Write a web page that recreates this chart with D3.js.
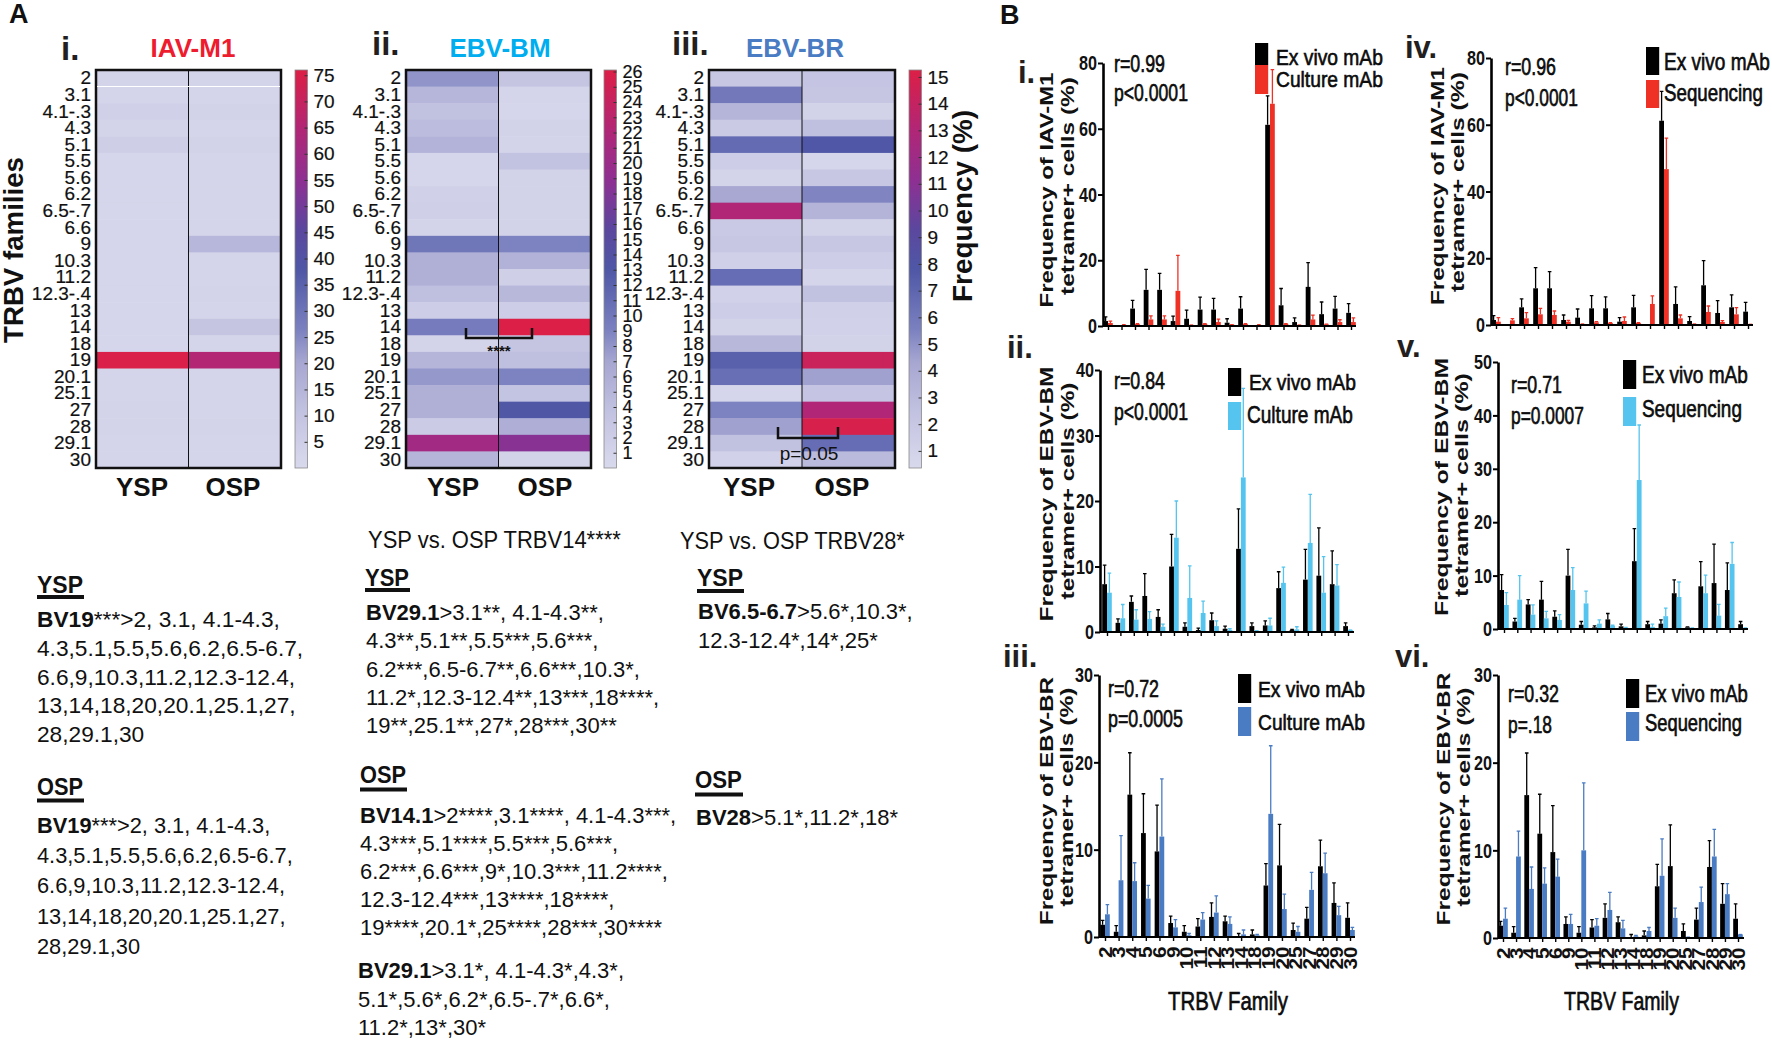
<!DOCTYPE html>
<html>
<head>
<meta charset="utf-8">
<script src="https://d3js.org/d3.v7.min.js"></script>
<style>
  body { margin: 0; background: #fff; }
  text { font-family: "Liberation Sans", Arial, sans-serif; fill: #111; }
  .thick text { stroke: #000; stroke-width: 0.6px; }
  .soft text { stroke: #111; stroke-width: 0.2px; }
</style>
</head>
<body>
<svg id="chart" width="1772" height="1046"></svg>
<script>
// ---- heatmap data (frequency %)
const trbvRows = ["2","3.1","4.1-.3","4.3","5.1","5.5","5.6","6.2","6.5-.7","6.6","9","10.3","11.2","12.3-.4","13","14","18","19","20.1","25.1","27","28","29.1","30"];
const heatM1Ysp = [3,2.5,4,3,5,2,2,2,2,2,2,2,2,2,2,2,2,75.5,2.5,2.5,3,3,2.5,2.5];
const heatM1Osp = [3,2.5,3.5,2.5,3.5,2.5,2.5,2.5,2.5,2.5,14.5,2.5,2.5,3,2.5,9.5,2.5,65,2.5,2.5,2.5,3,2.5,2.5];
const heatBmYsp = [8,5,3.8,4.3,5.4,0.6,0.6,1.5,1.6,1,10,5.8,5.8,4,2,9.6,1,5.2,7.8,5.7,5.7,2.2,20.8,5.2];
const heatBmOsp = [3.3,0.8,0.7,1.2,1,3.6,1.2,1.2,1.2,1.1,9,5.5,1.6,4.8,2,26,3.3,4,9,3.5,13,6,18.5,1.2];
const heatBrYsp = [2,6,3.3,1.7,6.7,1.5,0.9,4.2,13,1.8,2,1.2,6.6,1.1,1.5,1,3.1,7.3,6.5,0.7,5.5,4.5,2.5,1.1];
const heatBrOsp = [2.2,2.1,1,2.6,7.8,0.7,2,5.4,3.4,1,2,1.5,0.8,2.5,1.2,1.1,1,14.3,4.5,2.2,13,15,6.6,3];
const groups = ["YSP","OSP"];
const colorStops = [0,.13,.27,.35,.5,.6,.72,.85,1];
const colorRange = ["#d9d9ed","#c4c4e2","#a5a5d1","#7a80bf","#4f57a6","#5b479e","#8d3093","#b12676","#dc1f46"];

// ---- bar data (mean and top of the error bar, %)
const families = ["2","3","4","5","6","9","10","11","12","13","14","18","19","20","25","27","28","29","30"];
const exVivoM1 = [1.5,0,5.3,11,11,1.5,2.2,5,5,1,5.3,0,61.2,6.3,1.2,11.9,3.6,5.3,4];
const exVivoM1Err = [2.8,0,7.8,17.2,16,3,4.8,8.8,8.4,2.2,8.9,0,70,11.4,2.5,19.3,7.3,9,6.8];
const cultureM1 = [0.9,0.3,0.6,2,2,10.7,0.3,0.6,1.2,0.4,0.6,0.3,67.6,0.6,0.3,2,0.5,1.2,1.2];
const cultureM1Err = [1.5,0.4,0.7,3.1,3.1,21.5,0.3,0.7,2.1,0.4,0.7,0.4,78,0.7,0.3,3.3,0.6,1.9,2.5];
const seqM1 = [1,1.4,2,3.2,3,1,0.3,0.8,0.6,1.2,0.6,6.3,46.7,2,0.3,3.9,0.9,3.2,0.2];
const seqM1Err = [2.2,1.9,3.7,5,4.2,1.4,0.3,1,0.7,2.4,0.7,8.7,56,3,0.3,5.7,1.3,5.2,0.2];
const exVivoBm = [7.3,1.4,4.6,5.5,2.3,10,0.8,0.3,1.8,0.5,12.7,0.9,1,6.7,0.3,8,8.6,7.3,0.9];
const exVivoBmErr = [10.2,2,5.5,8.9,3.4,14.9,1.4,0.6,2.9,0.9,18.8,1.4,1.7,9.2,0.4,12.6,15.9,12.4,1.4];
const cultureBm = [6,2.1,1.9,2,0.8,14.4,5.2,2.9,0.9,0.3,23.6,0.2,1,7.5,0.4,13.6,6,7.1,0.3];
const cultureBmErr = [9,4.2,3.4,3.1,1.2,20,10.1,4.7,1.7,0.5,37.2,0.2,2.1,9.9,0.8,21,11.5,10.3,0.3];
const seqBm = [4.5,5.5,2.7,2,1.7,7.3,4.8,1,0.6,0.2,27.9,0.4,2.4,6,0.1,6.7,2.5,12.2,0.2];
const seqBmErr = [6.8,10,4.5,3.3,2.7,11.5,7.1,1.7,0.7,0.3,38.2,0.9,3.9,8.8,0.2,10.1,4.6,16.2,0.2];
const exVivoBr = [1.4,0.6,16.3,11.9,9.8,1.6,0.6,1.2,2.3,1.8,0.1,0.3,5.9,8.2,0.8,2.1,8.1,3.9,2.2];
const exVivoBrErr = [1.9,1.3,21.1,16.4,15.1,2.4,1.3,2.1,3.9,2.4,0.4,0.8,8.4,12.9,1.6,3.4,11.1,6.2,3.9];
const cultureBr = [2.6,6.5,6.4,4.4,11.5,1.1,0.2,2,2.8,1.5,0.3,0.2,14.1,3.2,0.6,5.4,7.3,2.5,0.8];
const cultureBrErr = [3.7,11.6,8.5,5.9,18.1,2,0.4,2.8,4.7,2.3,0.8,0.3,21.9,4.9,1.2,7.4,9.6,3.5,1.1];
const seqBr = [2.2,9.3,5.6,6.2,7,1.6,10,1.4,3.2,1.1,0.2,0.8,7.1,2.3,0.1,4.1,9.3,5,0.4];
const seqBrErr = [3.4,12.2,8.1,8,9,2.7,17.7,2.2,5.2,2,0.3,1.2,11.3,3.4,0.1,5.8,12.4,6.2,0.4];

const red = "#ee3124", sky = "#55c5ef", blue = "#4a7cc4";

const svg = d3.select("#chart");

// small helper, w squeezes the text to a measured width like the figure
function label(parent, x, y, str, o = {}) {
  const t = parent.append("text")
    .attr("x", x).attr("y", y)
    .attr("font-size", o.size || 22)
    .attr("font-weight", o.bold ? "bold" : "normal")
    .attr("text-anchor", o.anchor || "start")
    .text(str);
  if (o.color) t.style("fill", o.color);
  if (o.w) {
    const k = o.w / t.node().getComputedTextLength();
    t.attr("transform", "translate(" + x + "," + y + ") scale(" + k + ",1) translate(" + (-x) + "," + (-y) + ")");
  }
  return t;
}

function vertical(x, y, str, o) {
  const g = svg.append("g").attr("transform", "translate(" + x + "," + y + ") rotate(-90)");
  label(g, 0, 0, str, Object.assign({ anchor: "middle" }, o)).attr("dy", "0.35em");
}

// ---- panel A heatmaps
function heatmap(cfg) {
  const rowScale = d3.scaleBand().domain(trbvRows).range([70, 468]);
  const colScale = d3.scaleBand().domain(groups).range([cfg.x0, cfg.x1]);
  const [lo, hi] = cfg.domain;
  const color = d3.scaleLinear()
    .domain(colorStops.map(t => lo + t * (hi - lo)))
    .range(colorRange);

  const g = svg.append("g");
  [cfg.ysp, cfg.osp].forEach((vals, c) => {
    g.selectAll(null).data(vals).join("rect")
      .attr("x", colScale(groups[c]))
      .attr("y", (d, i) => rowScale(trbvRows[i]))
      .attr("width", colScale.bandwidth())
      .attr("height", rowScale.bandwidth() + 0.5)
      .attr("fill", d => color(d));
  });
  g.append("line")
    .attr("x1", colScale("OSP")).attr("x2", colScale("OSP"))
    .attr("y1", 70).attr("y2", 468)
    .attr("stroke", "#111").attr("stroke-width", 1);
  g.append("rect")
    .attr("x", cfg.x0).attr("y", 70)
    .attr("width", cfg.x1 - cfg.x0).attr("height", 398)
    .attr("fill", "none").attr("stroke", "#111").attr("stroke-width", 2.5);

  // row labels
  const rowAxis = g.append("g")
    .attr("class", "soft")
    .attr("transform", "translate(" + (cfg.x0 - 5) + ",0)")
    .call(d3.axisLeft(rowScale).tickSize(0).tickPadding(0));
  rowAxis.select(".domain").remove();
  rowAxis.selectAll("text").attr("font-size", 19).style("font-family", "Liberation Sans");

  groups.forEach((name, c) => {
    label(svg, cfg.groupX[c], 496, name, { size: 26, bold: true, anchor: "middle" });
  });

  // colour bar
  const id = "grad" + cfg.id;
  const grad = svg.append("defs").append("linearGradient")
    .attr("id", id).attr("x1", 0).attr("x2", 0).attr("y1", 1).attr("y2", 0);
  colorStops.forEach((t, i) => {
    grad.append("stop").attr("offset", t).attr("stop-color", colorRange[i]);
  });
  svg.append("rect")
    .attr("x", cfg.bar).attr("y", 70).attr("width", 12.5).attr("height", 398)
    .attr("fill", "url(#" + id + ")").attr("stroke", "#8a8a8a").attr("stroke-width", 0.8);
  const barScale = d3.scaleLinear().domain(cfg.domain).range([468, 70]);
  const barAxis = svg.append("g")
    .attr("class", "soft")
    .attr("transform", "translate(" + (cfg.bar + 12.5) + ",0)")
    .call(d3.axisRight(barScale).tickValues(cfg.ticks).tickFormat(d3.format("d")).tickSize(-3).tickPadding(6));
  barAxis.select(".domain").remove();
  barAxis.selectAll("line").attr("stroke", "#333");
  barAxis.selectAll("text").attr("font-size", cfg.tickFont).style("font-family", "Liberation Sans");

  label(svg, cfg.titleX, 57, cfg.title, { size: 26, bold: true, anchor: "middle", color: cfg.titleColor });
}

heatmap({ id: 1, x0: 96, x1: 281, ysp: heatM1Ysp, osp: heatM1Osp, domain: [0, 76], ticks: d3.range(5, 76, 5),
  bar: 295, tickFont: 19, groupX: [142, 233], title: "IAV-M1", titleX: 193, titleColor: "#ed1c2e" });
heatmap({ id: 2, x0: 406, x1: 591, ysp: heatBmYsp, osp: heatBmOsp, domain: [0, 26.1], ticks: d3.range(1, 27),
  bar: 604, tickFont: 18, groupX: [453, 545], title: "EBV-BM", titleX: 500, titleColor: "#00aeef" });
heatmap({ id: 3, x0: 709, x1: 895, ysp: heatBrYsp, osp: heatBrOsp, domain: [0.36, 15.26], ticks: d3.range(1, 16),
  bar: 909, tickFont: 19, groupX: [749, 842], title: "EBV-BR", titleX: 795, titleColor: "#4a7cc4" });

// white gap seen under the first row of the first heatmap
svg.append("line").attr("x1", 97).attr("x2", 280).attr("y1", 86.5).attr("y2", 86.5)
  .attr("stroke", "#fff").attr("stroke-width", 1);

// significance brackets
function bracket(x1, x2, y1, y2) {
  svg.append("path")
    .attr("d", d3.line()([[x1, y1], [x1, y2], [x2, y2], [x2, y1]]))
    .attr("fill", "none").attr("stroke", "#111").attr("stroke-width", 2.5);
}
bracket(466, 532, 328, 338);
label(svg, 499, 356, "****", { size: 15, bold: true, anchor: "middle" });
bracket(778, 838, 427, 438);
label(svg, 809, 460, "p=0.05", { size: 19, anchor: "middle" });

label(svg, 9, 23, "A", { size: 27, bold: true });
label(svg, 1000, 24, "B", { size: 27, bold: true });
label(svg, 61, 60, "i.", { size: 33, bold: true, color: "#231f20" });
label(svg, 372, 55, "ii.", { size: 33, bold: true, color: "#231f20" });
label(svg, 672, 55, "iii.", { size: 33, bold: true, color: "#231f20" });
vertical(14, 250, "TRBV families", { size: 27, bold: true, w: 186 });
vertical(963, 206, "Frequency (%)", { size: 27, bold: true, w: 192 });

// ---- panel A statistics text
function note(x, y, step, size, lines) {
  lines.forEach((ln, i) => {
    const t = label(svg, x, y + i * step, "", { size: size });
    if (ln.bold) t.append("tspan").attr("font-weight", "bold").text(ln.bold);
    t.append("tspan").text(ln.text);
  });
}
function heading(x, y, str, w, uy) {
  label(svg, x, y, str, { size: 23, bold: true, w: w });
  svg.append("rect").attr("x", x).attr("y", uy).attr("width", w + 1).attr("height", 4).attr("fill", "#111");
}

const col1Lines = [
  { bold: "BV19", text: "***>2, 3.1, 4.1-4.3," },
  { text: "4.3,5.1,5.5,5.6,6.2,6.5-6.7," },
  { text: "6.6,9,10.3,11.2,12.3-12.4," },
  { text: "13,14,18,20,20.1,25.1,27," },
  { text: "28,29.1,30" }
];
heading(37, 593, "YSP", 46, 595);
note(37, 627, 28.8, 22.7, col1Lines);
heading(37, 795, "OSP", 46, 798.5);
note(37, 833, 30.2, 21.8, col1Lines);

label(svg, 368, 548, "YSP vs. OSP TRBV14****", { size: 24, w: 253 });
label(svg, 680, 549, "YSP vs. OSP TRBV28*", { size: 24, w: 225 });

heading(365, 586, "YSP", 44, 588);
note(366, 620, 28.3, 22, [
  { bold: "BV29.1", text: ">3.1**, 4.1-4.3**," },
  { text: "4.3**,5.1**,5.5***,5.6***," },
  { text: "6.2***,6.5-6.7**,6.6***,10.3*," },
  { text: "11.2*,12.3-12.4**,13***,18****," },
  { text: "19**,25.1**,27*,28***,30**" }
]);
heading(360, 783, "OSP", 46, 787.5);
note(360, 823, 28, 22, [
  { bold: "BV14.1", text: ">2****,3.1****, 4.1-4.3***," },
  { text: "4.3***,5.1****,5.5***,5.6***," },
  { text: "6.2***,6.6***,9*,10.3***,11.2****," },
  { text: "12.3-12.4***,13****,18****," },
  { text: "19****,20.1*,25****,28***,30****" }
]);
note(358, 978, 28.5, 22, [
  { bold: "BV29.1", text: ">3.1*, 4.1-4.3*,4.3*," },
  { text: "5.1*,5.6*,6.2*,6.5-.7*,6.6*," },
  { text: "11.2*,13*,30*" }
]);

heading(697, 586, "YSP", 46, 589);
note(698, 619, 29, 22, [
  { bold: "BV6.5-6.7", text: ">5.6*,10.3*," },
  { text: "12.3-12.4*,14*,25*" }
]);
heading(695, 788, "OSP", 47, 792.5);
note(696, 825, 29, 22, [{ bold: "BV28", text: ">5.1*,11.2*,18*" }]);

// ---- panel B bar charts
function barPanel(p) {
  const x = d3.scalePoint().domain(families).range([p.first, p.last]);
  const y = d3.scaleLinear().domain([0, p.max]).range([p.y0, p.yTop]);
  const barW = 4.8;
  const g = svg.append("g");

  const series = [
    { vals: p.black, errs: p.blackErr, fill: "#000", dx: -barW },
    { vals: p.other, errs: p.otherErr, fill: p.color, dx: 0 }
  ];
  series.forEach(s => {
    const rows = families.map((f, i) => ({ f: f, v: s.vals[i], e: s.errs[i] }));
    g.selectAll(null).data(rows).join("path")
      .attr("d", d => {
        const cx = x(d.f) + s.dx + barW / 2;
        return "M" + cx + "," + y(d.v) + "V" + y(d.e) + "M" + (cx - 1.8) + "," + y(d.e) + "H" + (cx + 1.8);
      })
      .attr("stroke", s.fill).attr("stroke-width", 1.3).attr("fill", "none");
    g.selectAll(null).data(rows).join("rect")
      .attr("x", d => x(d.f) + s.dx)
      .attr("y", d => y(d.v))
      .attr("width", barW)
      .attr("height", d => y(0) - y(d.v))
      .attr("fill", s.fill);
  });

  const yAxis = g.append("g")
    .attr("transform", "translate(" + p.axisX + ",0)")
    .call(d3.axisLeft(y).tickValues(d3.range(0, p.max + 1, p.step)).tickSize(5).tickSizeOuter(0).tickPadding(1));
  yAxis.select(".domain").attr("stroke-width", 2.6).attr("stroke", "#000");
  yAxis.selectAll("line").attr("stroke-width", 2).attr("stroke", "#000");
  yAxis.selectAll("text").attr("font-size", 21).attr("font-weight", "bold")
    .style("font-family", "Liberation Sans")
    .attr("textLength", d => d === 0 ? 9 : 18).attr("lengthAdjust", "spacingAndGlyphs");

  const xAxis = g.append("g")
    .attr("transform", "translate(0," + p.y0 + ")")
    .call(d3.axisBottom(x).tickSize(4).tickPadding(5).tickFormat(p.xLabels ? d => d : ""));
  xAxis.select(".domain").remove();
  xAxis.selectAll("line").attr("stroke-width", 1.4).attr("stroke", "#000");
  g.append("line")
    .attr("x1", p.axisX).attr("x2", p.xEnd).attr("y1", p.y0).attr("y2", p.y0)
    .attr("stroke", "#000").attr("stroke-width", 2);
  if (p.xLabels) {
    // digits are narrow across the axis and stretched along the reading direction
    xAxis.selectAll("text")
      .attr("font-size", 17.5).attr("font-weight", "bold")
      .style("font-family", "Liberation Sans")
      .attr("text-anchor", "end")
      .attr("transform", "rotate(-90) scale(1.18,1)")
      .attr("x", -8).attr("y", 0).attr("dy", "0.35em");
    label(svg, p.xTitle[0], 1010, "TRBV Family", { size: 25, w: p.xTitle[1] }).style("stroke", "#000").style("stroke-width", 0.6);
  }

  vertical(p.line1[0], p.line1[1], p.title, { size: 18, bold: true, w: p.line1[2] });
  vertical(p.line2[0], p.line2[1], "tetramer+ cells (%)", { size: 18, bold: true, w: p.line2[2] });

  label(svg, p.numeral[0], p.numeral[1], p.numeral[2], { size: 31, bold: true, color: "#231f20" });

  const stats = svg.append("g").attr("class", "thick");
  label(stats, p.r[0], p.r[1], p.r[2], { size: 23, w: 51 });
  label(stats, p.pv[0], p.pv[1], p.pv[2], { size: 23, w: p.pv[3] });

  // legend
  svg.append("rect").attr("x", p.swatch).attr("y", p.key1[0]).attr("width", 13.2).attr("height", p.key1[1] - p.key1[0]).attr("fill", "#000");
  svg.append("rect").attr("x", p.swatch).attr("y", p.key2[0]).attr("width", 13.2).attr("height", p.key2[1] - p.key2[0]).attr("fill", p.color);
  const keys = svg.append("g").attr("class", "thick");
  label(keys, p.text1[0], p.text1[1], "Ex vivo mAb", { size: 23, w: p.text1[2] });
  label(keys, p.text2[0], p.text2[1], p.otherName, { size: 23, w: p.text2[2] });
}

barPanel({ first: 1108, last: 1351, xEnd: 1356, axisX: 1103, y0: 326, yTop: 63, max: 80, step: 20,
  black: exVivoM1, blackErr: exVivoM1Err, other: cultureM1, otherErr: cultureM1Err, color: red, otherName: "Culture mAb",
  title: "Frequency of IAV-M1", line1: [1047, 190, 235], line2: [1068, 186, 218], numeral: [1018, 83, "i."],
  r: [1114, 72, "r=0.99"], pv: [1114, 101, "p<0.0001", 74],
  swatch: 1255, key1: [43, 65], key2: [65, 94], text1: [1276, 65, 107], text2: [1276, 87, 107] });

barPanel({ first: 1496, last: 1748, xEnd: 1753, axisX: 1491, y0: 325, yTop: 58, max: 80, step: 20,
  black: exVivoM1, blackErr: exVivoM1Err, other: seqM1, otherErr: seqM1Err, color: red, otherName: "Sequencing",
  title: "Frequency of IAV-M1", line1: [1438, 186, 238], line2: [1458, 182, 220], numeral: [1405, 58, "iv."],
  r: [1505, 75, "r=0.96"], pv: [1505, 106, "p<0.0001", 73],
  swatch: 1646, key1: [47, 75], key2: [80, 108], text1: [1664, 70, 106], text2: [1664, 101, 99] });

barPanel({ first: 1107, last: 1348, xEnd: 1354, axisX: 1100, y0: 632, yTop: 370, max: 40, step: 10,
  black: exVivoBm, blackErr: exVivoBmErr, other: cultureBm, otherErr: cultureBmErr, color: sky, otherName: "Culture mAb",
  title: "Frequency of EBV-BM", line1: [1047, 494, 255], line2: [1068, 491, 217], numeral: [1007, 358, "ii."],
  r: [1114, 389, "r=0.84"], pv: [1114, 420, "p<0.0001", 74],
  swatch: 1228, key1: [368, 396], key2: [402, 430], text1: [1249, 390, 107], text2: [1247, 423, 106] });

barPanel({ first: 1504, last: 1743, xEnd: 1748, axisX: 1498, y0: 629, yTop: 362, max: 50, step: 10,
  black: exVivoBm, blackErr: exVivoBmErr, other: seqBm, otherErr: seqBmErr, color: sky, otherName: "Sequencing",
  title: "Frequency of EBV-BM", line1: [1442, 487, 258], line2: [1462, 485, 224], numeral: [1397, 357, "v."],
  r: [1511, 393, "r=0.71"], pv: [1511, 424, "p=0.0007", 73],
  swatch: 1623, key1: [360, 389], key2: [397, 426], text1: [1642, 383, 106], text2: [1642, 417, 100] });

barPanel({ first: 1105, last: 1350, xEnd: 1355, axisX: 1099, y0: 937, yTop: 675, max: 30, step: 10, xLabels: true, xTitle: [1168, 120],
  black: exVivoBr, blackErr: exVivoBrErr, other: cultureBr, otherErr: cultureBrErr, color: blue, otherName: "Culture mAb",
  title: "Frequency of EBV-BR", line1: [1047, 801, 248], line2: [1067, 797, 219], numeral: [1003, 667, "iii."],
  r: [1108, 697, "r=0.72"], pv: [1108, 727, "p=0.0005", 75],
  swatch: 1238, key1: [674, 703], key2: [707, 736], text1: [1258, 697, 107], text2: [1258, 730, 107] });

barPanel({ first: 1503, last: 1738, xEnd: 1744, axisX: 1498, y0: 938, yTop: 675, max: 30, step: 10, xLabels: true, xTitle: [1564, 115],
  black: exVivoBr, blackErr: exVivoBrErr, other: seqBr, otherErr: seqBrErr, color: blue, otherName: "Sequencing",
  title: "Frequency of EBV-BR", line1: [1444, 799, 253], line2: [1464, 797, 219], numeral: [1395, 667, "vi."],
  r: [1508, 702, "r=0.32"], pv: [1508, 733, "p=.18", 44],
  swatch: 1626, key1: [679, 708], key2: [712, 741], text1: [1645, 702, 103], text2: [1645, 731, 97] });
</script>
</body>
</html>
